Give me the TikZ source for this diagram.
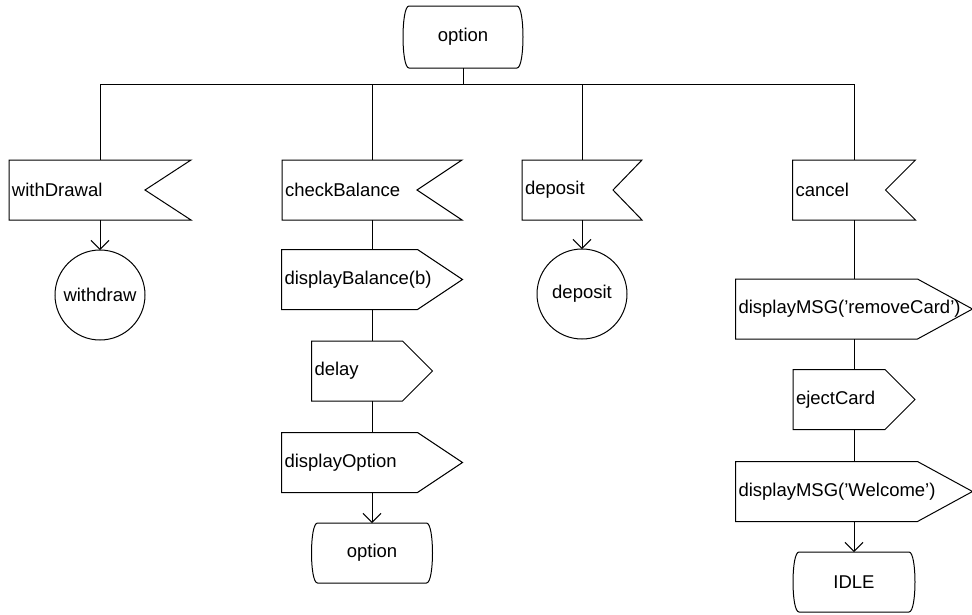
\documentclass[tikz,border=0pt]{standalone}
\usepackage{fontspec}
\setmainfont{Liberation Sans}
\usetikzlibrary{arrows.meta}
\begin{document}
\begin{tikzpicture}[x=1pt,y=-1pt,
  line/.style={draw=black, line width=1pt, line join=miter},
  arr/.style={-{Straight Barb[length=9pt,width=18pt,line width=1pt]}},
  lbl/.style={font=\fontsize{18.5}{22}\selectfont, inner xsep=3pt, inner ysep=0pt, outer sep=0pt},
  % input signal: rectangle with a notch cut into its right side
  insig/.style={lbl, align=left, minimum height=60pt,
    append after command={\pgfextra{\draw[line]
      (\tikzlastnode.north west) -- (\tikzlastnode.north east)
      -- ([xshift=-#1]\tikzlastnode.east) -- (\tikzlastnode.south east)
      -- (\tikzlastnode.south west) -- cycle;}}},
  % output signal: rectangle ending in a point on its right side
  outsig/.style={lbl, align=left, minimum height=60pt,
    append after command={\pgfextra{\draw[line]
      (\tikzlastnode.north west) -- ([xshift=-#1]\tikzlastnode.north east)
      -- (\tikzlastnode.east) -- ([xshift=-#1]\tikzlastnode.south east)
      -- (\tikzlastnode.south west) -- cycle;}}},
  % state: box with bulging left and right sides
  state/.style={lbl, align=center, minimum height=60pt, minimum width=#1,
    append after command={\pgfextra{\draw[line]
      (\tikzlastnode.north west) -- (\tikzlastnode.north east)
      .. controls ([xshift=8pt]\tikzlastnode.north east) and ([xshift=8pt]\tikzlastnode.south east) .. (\tikzlastnode.south east)
      -- (\tikzlastnode.south west)
      .. controls ([xshift=-8pt]\tikzlastnode.south west) and ([xshift=-8pt]\tikzlastnode.north west) .. (\tikzlastnode.north west)
      -- cycle;}}},
  conn/.style={lbl, circle, draw, line width=1pt, minimum size=90pt, inner sep=0pt}
]
\useasboundingbox (0,0) rectangle (972,614);

% top state
\node[state=108pt, minimum height=62pt] (top) at (463,37) {option};
\coordinate (busy) at (0,84);

% input signals
\node[insig=46pt, text width=176pt] (wd) at (100,190) {withDrawal};
\node[insig=45pt, text width=174pt] (cb) at (372,190) {checkBalance};
\node[insig=29pt, text width=114pt] (dp) at (582,190) {deposit};
\node[insig=30pt, text width=117pt] (cn) at (854,190) {cancel};

% connectors (joins)
\node[conn] (wdc) at (100,295) {withdraw};
\node[conn] (dpc) at (582,294) {deposit};

% checkBalance branch
\node[outsig=45pt, text width=175pt] (db) at (372,279.5) {displayBalance(b)};
\node[outsig=30pt, text width=115pt] (dl) at (372,371) {delay};
\node[outsig=45pt, text width=175pt] (do) at (372,462.5) {displayOption};
\node[state=109pt] (opt) at (372,553) {option};

% cancel branch
\node[outsig=55pt, text width=231pt] (rm) at (854,309) {displayMSG('removeCard')};
\node[outsig=30pt, text width=116pt] (ej) at (854,399.5) {ejectCard};
\node[outsig=55pt, text width=231pt] (wl) at (854,491.5) {displayMSG('Welcome')};
\node[state=110pt] (idle) at (854,582) {IDLE};

% bus from the top state to the four inputs
\draw[line] (top.south) -- (top.south |- busy);
\draw[line] (wd.north) -- (wd.north |- busy) -- (cn.north |- busy) -- (cn.north);
\draw[line] (cb.north) -- (cb.north |- busy);
\draw[line] (dp.north) -- (dp.north |- busy);

% flow lines
\draw[line,arr] (wd.south) -- (wdc.north);
\draw[line,arr] (dp.south) -- (dpc.north);
\draw[line] (cb.south) -- (db.north);
\draw[line] (db.south) -- (dl.north);
\draw[line] (dl.south) -- (do.north);
\draw[line,arr] (do.south) -- (opt.north);
\draw[line] (cn.south) -- (rm.north);
\draw[line] (rm.south) -- (ej.north);
\draw[line] (ej.south) -- (wl.north);
\draw[line,arr] (wl.south) -- (idle.north);
\end{tikzpicture}
\end{document}
